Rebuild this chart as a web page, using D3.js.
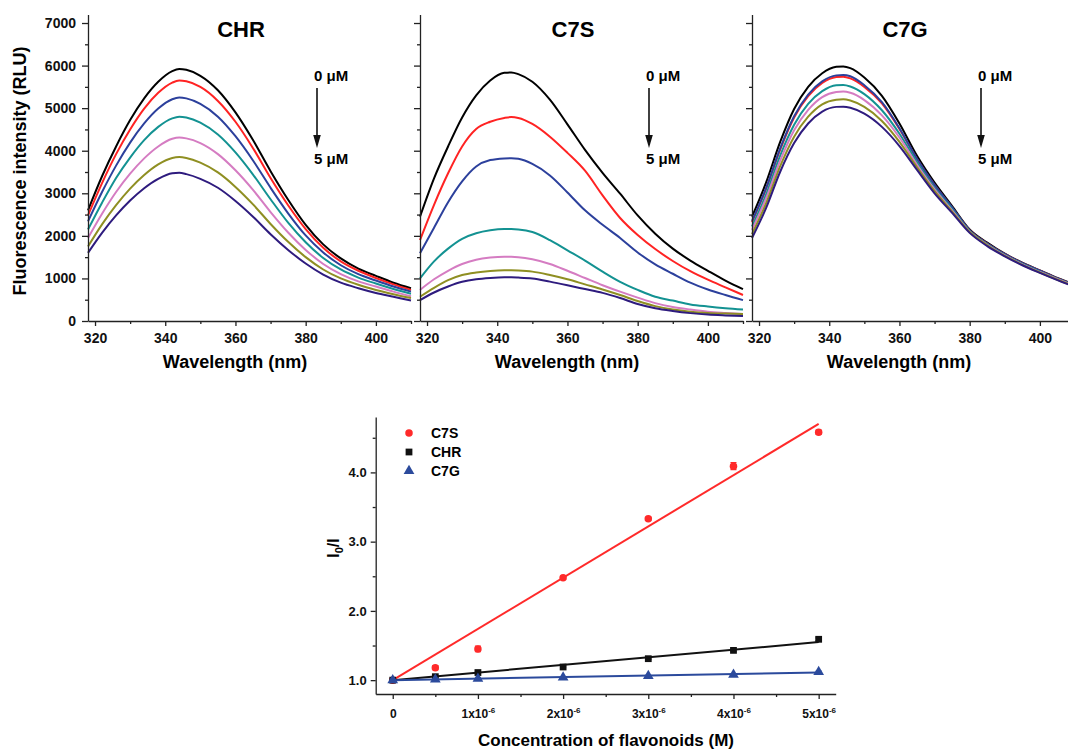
<!DOCTYPE html>
<html>
<head>
<meta charset="utf-8">
<script src="https://cdn.jsdelivr.net/npm/d3@7"></script>
<style>
body { margin: 0; background: #fff; }
svg { display: block; font-family: Arial, "Liberation Sans", sans-serif; font-weight: bold; }
.axis path, .axis line { stroke: #222; stroke-width: 1.3; }
.axis text { fill: #111; font-family: Arial, "Liberation Sans", sans-serif; font-weight: bold; }
</style>
</head>
<body>
<svg id="chart" width="1068" height="749"></svg>
<script>
// emission wavelengths (nm) shared by all spectra
const wavelengths = [318, 322, 326, 330, 334, 338, 342, 344, 346, 350, 355, 360, 365, 370, 375, 380, 385, 390, 395, 400, 405, 410];
const doseColors = ['#000000', '#ff2323', '#2c409c', '#139292', '#d57cc2', '#8f8f22', '#2e1b7e'];
const panelTitles = ['CHR', 'C7S', 'C7G'];

// fluorescence (RLU), one row per dose, 0 -> 5 uM
const chrSpectra = [
    [2600, 3400, 4100, 4720, 5230, 5620, 5870, 5920, 5900, 5760, 5420, 4900, 4250, 3520, 2850, 2260, 1800, 1470, 1230, 1060, 900, 770],
    [2480, 3240, 3920, 4500, 4990, 5360, 5600, 5650, 5630, 5500, 5170, 4680, 4060, 3360, 2720, 2160, 1720, 1400, 1180, 1010, 860, 730],
    [2340, 3030, 3650, 4190, 4640, 4990, 5210, 5250, 5230, 5100, 4800, 4340, 3770, 3130, 2530, 2010, 1610, 1310, 1100, 950, 810, 690],
    [2150, 2780, 3360, 3840, 4250, 4560, 4760, 4800, 4780, 4660, 4380, 3960, 3440, 2860, 2310, 1850, 1480, 1210, 1020, 880, 750, 640],
    [1950, 2520, 3030, 3460, 3820, 4100, 4280, 4310, 4290, 4180, 3920, 3540, 3080, 2560, 2080, 1670, 1340, 1100, 930, 810, 690, 580],
    [1750, 2270, 2720, 3110, 3430, 3680, 3830, 3850, 3830, 3720, 3490, 3150, 2740, 2280, 1860, 1500, 1210, 1000, 850, 730, 630, 540],
    [1600, 2070, 2480, 2830, 3120, 3340, 3470, 3480, 3450, 3340, 3130, 2820, 2450, 2040, 1670, 1350, 1090, 900, 770, 660, 570, 480]
];
const c7sSpectra = [
    [2450, 3350, 4100, 4780, 5300, 5650, 5830, 5840, 5800, 5620, 5200, 4620, 4020, 3480, 2990, 2480, 2050, 1700, 1420, 1180, 950, 750],
    [1900, 2730, 3470, 4100, 4510, 4680, 4770, 4790, 4770, 4630, 4330, 3950, 3530, 2950, 2420, 2020, 1690, 1410, 1170, 970, 790, 610],
    [1590, 2190, 2790, 3280, 3630, 3780, 3820, 3825, 3810, 3690, 3420, 3020, 2600, 2260, 1950, 1610, 1330, 1110, 900, 740, 610, 490],
    [1000, 1400, 1700, 1930, 2060, 2130, 2160, 2160, 2150, 2090, 1900, 1660, 1420, 1160, 920, 730, 570, 480, 390, 340, 300, 270],
    [730, 980, 1180, 1340, 1440, 1490, 1510, 1510, 1500, 1450, 1340, 1180, 1010, 840, 690, 550, 420, 330, 270, 220, 190, 165],
    [570, 780, 960, 1080, 1140, 1175, 1190, 1190, 1185, 1160, 1080, 980, 860, 740, 610, 470, 350, 270, 220, 190, 175, 165],
    [490, 670, 810, 920, 980, 1010, 1025, 1025, 1020, 1000, 925, 840, 750, 660, 540, 400, 300, 235, 185, 150, 130, 115]
];
const c7gSpectra = [
    [2450, 3250, 4200, 4980, 5500, 5820, 5970, 5980, 5940, 5720, 5290, 4640, 3880, 3250, 2700, 2150, 1840, 1580, 1370, 1190, 1010, 850],
    [2320, 3100, 4020, 4780, 5280, 5590, 5730, 5740, 5700, 5500, 5110, 4510, 3800, 3190, 2660, 2130, 1820, 1570, 1360, 1180, 1000, 840],
    [2350, 3120, 4050, 4810, 5320, 5630, 5770, 5780, 5750, 5540, 5140, 4530, 3810, 3200, 2670, 2130, 1820, 1570, 1360, 1180, 1000, 840],
    [2220, 2970, 3880, 4610, 5100, 5400, 5540, 5545, 5510, 5330, 4950, 4400, 3730, 3130, 2630, 2110, 1800, 1550, 1340, 1160, 990, 830],
    [2140, 2880, 3760, 4480, 4960, 5260, 5380, 5390, 5360, 5190, 4830, 4310, 3670, 3090, 2600, 2100, 1790, 1540, 1330, 1150, 980, 820],
    [2040, 2760, 3630, 4330, 4800, 5090, 5200, 5210, 5180, 5030, 4700, 4210, 3610, 3050, 2570, 2090, 1780, 1530, 1320, 1140, 970, 810],
    [1950, 2650, 3500, 4180, 4640, 4920, 5030, 5035, 5010, 4870, 4560, 4110, 3550, 3000, 2540, 2070, 1760, 1520, 1310, 1130, 960, 800]
];
const wlTicks = [320, 340, 360, 380, 400];
const wlMinor = [330, 350, 370, 390, 410];
const rluTicks = [0, 1000, 2000, 3000, 4000, 5000, 6000, 7000];
const rluMinor = [500, 1500, 2500, 3500, 4500, 5500, 6500];

// Stern-Volmer data
const concentrations = [0, 0.5e-6, 1e-6, 2e-6, 3e-6, 4e-6, 5e-6];
const svNames = ['C7S', 'CHR', 'C7G'];
const svColors = ['#ff2a2a', '#111111', '#2b4a9c'];
const c7sRatio = [1.0, 1.18, 1.45, 2.48, 3.33, 4.09, 4.58];
const c7sError = [0.01, 0.03, 0.04, 0.02, 0.02, 0.05, 0.03];
const chrRatio = [1.0, 1.05, 1.11, 1.19, 1.31, 1.43, 1.59];
const chrError = [0.01, 0.01, 0.02, 0.01, 0.01, 0.02, 0.02];
const c7gRatio = [1.0, 1.01, 1.02, 1.04, 1.06, 1.08, 1.12];
const c7gError = [0.01, 0.01, 0.01, 0.01, 0.01, 0.01, 0.01];
const fitIntercepts = [1.0, 1.0, 1.0];
const fitSlopes = [7.4e5, 1.1e5, 2.2e4];
const concTicks = [0, 1e-6, 2e-6, 3e-6, 4e-6, 5e-6];
const concMinor = [0.5e-6, 1.5e-6, 2.5e-6, 3.5e-6, 4.5e-6];
const ratioTicks = [1, 2, 3, 4];
const ratioMinor = [1.5, 2.5, 3.5, 4.5];

let svg = d3.select('#chart');

// ---- top row: emission spectra ----
let panelLeft = [88, 420, 752],
    panelWidth = 323,
    y = d3.scaleLinear().domain([0, 7200]).range([321, 14.5]);

[chrSpectra, c7sSpectra, c7gSpectra].forEach((curves, p) => {
    let left = panelLeft[p],
        x = d3.scaleLinear().domain([318, 410]).range([left, left + panelWidth]),
        g = svg.append('g');

    let lineFunc = d3.line()
        .x((d, i) => x(wavelengths[i]))
        .y(d => y(d))
        .curve(d3.curveMonotoneX);

    g.selectAll('path.spectrum').data(curves)
        .enter().append('path')
        .attr('class', 'spectrum')
        .attr('fill', 'none')
        .attr('stroke', (d, i) => doseColors[i])
        .attr('stroke-width', 2)
        .attr('d', lineFunc);

    // axes
    g.append('g').attr('class', 'axis')
        .attr('transform', 'translate(0,321)')
        .call(d3.axisBottom(x).tickValues(wlTicks).tickSize(5).tickSizeOuter(0).tickPadding(7))
        .selectAll('text').attr('font-size', 14);
    g.append('g').attr('class', 'axis')
        .attr('transform', 'translate(0,321)')
        .call(d3.axisBottom(x).tickValues(wlMinor).tickSize(3).tickSizeOuter(0).tickFormat(''))
        .select('.domain').remove();

    let yAxis = g.append('g').attr('class', 'axis')
        .attr('transform', `translate(${left},0)`)
        .call(d3.axisLeft(y).tickValues(rluTicks).tickSize(6).tickSizeOuter(0).tickPadding(6).tickFormat(d3.format('d')));
    yAxis.selectAll('text').attr('font-size', 14);
    if (p > 0) yAxis.selectAll('text').remove();
    g.append('g').attr('class', 'axis')
        .attr('transform', `translate(${left},0)`)
        .call(d3.axisLeft(y).tickValues(rluMinor).tickSize(3).tickSizeOuter(0).tickFormat(''))
        .select('.domain').remove();

    // title, x label
    g.append('text')
        .attr('x', left + 153).attr('y', 36.5)
        .attr('text-anchor', 'middle').attr('font-size', 22)
        .text(panelTitles[p]);
    g.append('text')
        .attr('x', left + 147).attr('y', 368)
        .attr('text-anchor', 'middle').attr('font-size', 18)
        .text('Wavelength (nm)');

    // dose arrow
    let ax = left + 229;
    g.append('text').attr('x', ax - 3).attr('y', 81).attr('font-size', 15).text('0 μM');
    g.append('text').attr('x', ax - 3).attr('y', 163.5).attr('font-size', 15).text('5 μM');
    g.append('line')
        .attr('x1', ax).attr('x2', ax).attr('y1', 88).attr('y2', 138)
        .attr('stroke', '#111').attr('stroke-width', 1.6);
    g.append('path')
        .attr('d', `M${ax - 3.8},135 L${ax + 3.8},135 L${ax},148 Z`)
        .attr('fill', '#111');
});

svg.append('text')
    .attr('transform', 'translate(26,171) rotate(-90)')
    .attr('text-anchor', 'middle').attr('font-size', 18)
    .text('Fluorescence intensity (RLU)');

// ---- bottom: Stern-Volmer plot ----
let sx = d3.scaleLinear().domain([-0.2e-6, 5.2e-6]).range([375.7, 835.7]),
    sy = d3.scaleLinear().domain([0.8, 4.8]).range([694, 417]),
    sg = svg.append('g');

let ratios = [c7sRatio, chrRatio, c7gRatio],
    errors = [c7sError, chrError, c7gError],
    symbols = [d3.symbolCircle, d3.symbolSquare, d3.symbolTriangle],
    symbolSizes = [44, 46, 50];

ratios.forEach((vals, s) => {
    let pts = vals.map((v, i) => ({x: concentrations[i], y: v, e: errors[s][i]}));
    let grp = sg.append('g');
    // fit line
    grp.append('line')
        .attr('x1', sx(0)).attr('y1', sy(fitIntercepts[s]))
        .attr('x2', sx(5e-6)).attr('y2', sy(fitIntercepts[s] + fitSlopes[s] * 5e-6))
        .attr('stroke', svColors[s]).attr('stroke-width', 2);
    // error bars
    grp.selectAll('path.err').data(pts).enter().append('path')
        .attr('class', 'err')
        .attr('d', d => `M${sx(d.x) - 3},${sy(d.y + d.e)}H${sx(d.x) + 3}M${sx(d.x)},${sy(d.y + d.e)}V${sy(d.y - d.e)}M${sx(d.x) - 3},${sy(d.y - d.e)}H${sx(d.x) + 3}`)
        .attr('stroke', svColors[s]).attr('stroke-width', 1.2).attr('fill', 'none');
    grp.selectAll('path.pt').data(pts).enter().append('path')
        .attr('class', 'pt')
        .attr('transform', d => `translate(${sx(d.x)},${sy(d.y)})`)
        .attr('d', d3.symbol().type(symbols[s]).size(symbolSizes[s]))
        .attr('fill', svColors[s]);
});

// legend
svNames.forEach((name, s) => {
    let ly = 433 + s * 19;
    sg.append('path')
        .attr('transform', `translate(409,${ly})`)
        .attr('d', d3.symbol().type(symbols[s]).size(symbolSizes[s]))
        .attr('fill', svColors[s]);
    sg.append('text').attr('x', 431).attr('y', ly + 5).attr('font-size', 14).text(name);
});

// axes
let xAxisG = sg.append('g').attr('class', 'axis')
    .attr('transform', 'translate(0,694)')
    .call(d3.axisBottom(sx).tickValues(concTicks).tickSize(5).tickSizeOuter(0).tickPadding(10));
xAxisG.selectAll('.tick text').each(function(d) {
    let t = d3.select(this).attr('font-size', 12).text(null);
    if (d === 0) { t.text('0'); return; }
    t.append('tspan').text(Math.round(d * 1e6) + 'x10');
    t.append('tspan').attr('dy', -5).attr('font-size', 8).text('-6');
});
sg.append('g').attr('class', 'axis')
    .attr('transform', 'translate(0,694)')
    .call(d3.axisBottom(sx).tickValues(concMinor).tickSize(3).tickSizeOuter(0).tickFormat(''))
    .select('.domain').remove();

sg.append('g').attr('class', 'axis')
    .attr('transform', 'translate(375.7,0)')
    .call(d3.axisLeft(sy).tickValues(ratioTicks).tickSize(5).tickSizeOuter(0).tickPadding(4).tickFormat(d3.format('.1f')))
    .selectAll('text').attr('font-size', 13);
sg.append('g').attr('class', 'axis')
    .attr('transform', 'translate(375.7,0)')
    .call(d3.axisLeft(sy).tickValues(ratioMinor).tickSize(3).tickSizeOuter(0).tickFormat(''))
    .select('.domain').remove();

sg.append('text')
    .attr('x', 606).attr('y', 746)
    .attr('text-anchor', 'middle').attr('font-size', 17)
    .text('Concentration of flavonoids (M)');

let ylab = sg.append('text')
    .attr('transform', 'translate(339,548) rotate(-90)')
    .attr('text-anchor', 'middle').attr('font-size', 16);
ylab.append('tspan').text('I');
ylab.append('tspan').attr('dy', 4).attr('font-size', 11).text('0');
ylab.append('tspan').attr('dy', -4).text('/I');
</script>
</body>
</html>
